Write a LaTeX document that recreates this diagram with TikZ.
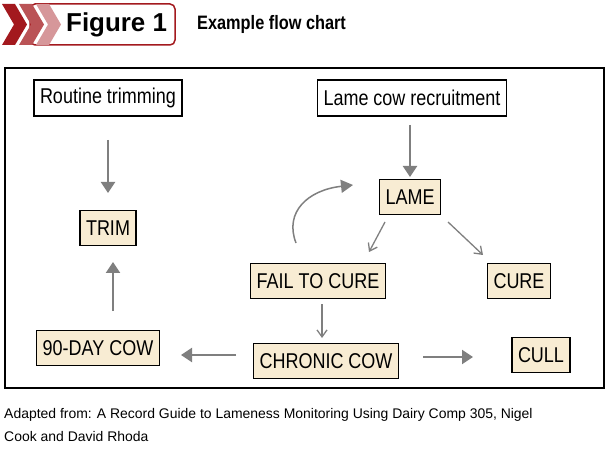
\documentclass[tikz,border=0pt]{standalone}
\usepackage{fontspec}
\setmainfont{Liberation Sans}
\newfontfamily\cond[FakeStretch=0.84]{Liberation Sans}
\usetikzlibrary{arrows.meta}
\definecolor{cream}{HTML}{F8ECD3}
\definecolor{ag}{HTML}{7F7F7F}
\definecolor{dred}{HTML}{A3191E}
\begin{document}
\begin{tikzpicture}[x=1bp,y=-1bp,
  box/.style={draw=black,line width=1.6bp,fill=cream,minimum height=35bp,inner xsep=6bp,font=\cond\fontsize{21.5}{23}\selectfont},
  wbox/.style={box,fill=white,minimum height=36bp},
  big/.style={draw=ag,line width=2.2bp,-{Triangle[length=11bp,width=14bp]}},
  thin/.style={draw=ag,line width=1.3bp,-{Straight Barb[length=7bp,width=10bp]}}]
\useasboundingbox (0,0) rectangle (610,450);
% header
\draw[dred,line width=1.5bp,fill=white,rounded corners=5bp] (30,4) rectangle (175,45);
\fill[dred!45!white] (36,4) -- (49,4) -- (61,24.5) -- (49,45) -- (36,45) -- (48,24.5) -- cycle;
\fill[dred!75!white] (19,4) -- (32,4) -- (44,24.5) -- (32,45) -- (19,45) -- (31,24.5) -- cycle;
\fill[dred] (2,4) -- (15,4) -- (27,24.5) -- (15,45) -- (2,45) -- (14,24.5) -- cycle;
\node[font=\bfseries\fontsize{26}{28}\selectfont,anchor=west,inner sep=0] (fig) at (66,25) {Figure 1};
\node[font=\cond\bfseries\fontsize{19.5}{21}\selectfont,anchor=west,inner sep=0] (ttl) at (197,24) {Example flow chart};
% frame
\draw[line width=1.8bp] (5,68) rectangle (604,388);
% nodes
\node[wbox] (rt) at (108,98) {Routine trimming};
\node[wbox] (lcr) at (412,98) {Lame cow recruitment};
\node[box] (trim) at (108,228) {TRIM};
\node[box] (lame) at (410,197) {LAME};
\node[box] (fail) at (318,281) {FAIL TO CURE};
\node[box] (cure) at (519,281) {CURE};
\node[box] (d90) at (98,348) {90-DAY COW};
\node[box] (chr) at (326,361) {CHRONIC COW};
\node[box] (cull) at (541,355) {CULL};
% arrow endpoints
\coordinate (a1) at (108,140); \coordinate (a2) at (108,193);
\coordinate (b1) at (410,125); \coordinate (b2) at (410,177);
\coordinate (c1) at (113,311); \coordinate (c2) at (113,262);
\coordinate (d1) at (236,355); \coordinate (d2) at (181,355);
\coordinate (e1) at (423,357); \coordinate (e2) at (473,357);
\coordinate (f1) at (385,222); \coordinate (f2) at (369,252);
\coordinate (g1) at (448,222); \coordinate (g2) at (483,255);
\coordinate (h1) at (322,304); \coordinate (h2) at (322,338);
\coordinate (k1) at (296,243); \coordinate (k2) at (353,185);
\draw[big] (a1) -- (a2);
\draw[big] (b1) -- (b2);
\draw[big] (c1) -- (c2);
\draw[big] (d1) -- (d2);
\draw[big] (e1) -- (e2);
\draw[thin] (f1) -- (f2);
\draw[thin] (g1) -- (g2);
\draw[thin] (h1) -- (h2);
\draw[draw=ag,line width=1.5bp,-{Triangle[length=12bp,width=13bp]}] (k1) .. controls (284,212) and (308,190) .. (k2);
% caption
\node[anchor=west,inner sep=0,font=\fontsize{14}{16}\selectfont] (cap1) at (4,415) {Adapted from: A Record Guide to Lameness Monitoring Using Dairy Comp 305, Nigel};
\node[anchor=west,inner sep=0,font=\fontsize{14}{16}\selectfont] (cap2) at (4,437) {Cook and David Rhoda};
\end{tikzpicture}
\end{document}
